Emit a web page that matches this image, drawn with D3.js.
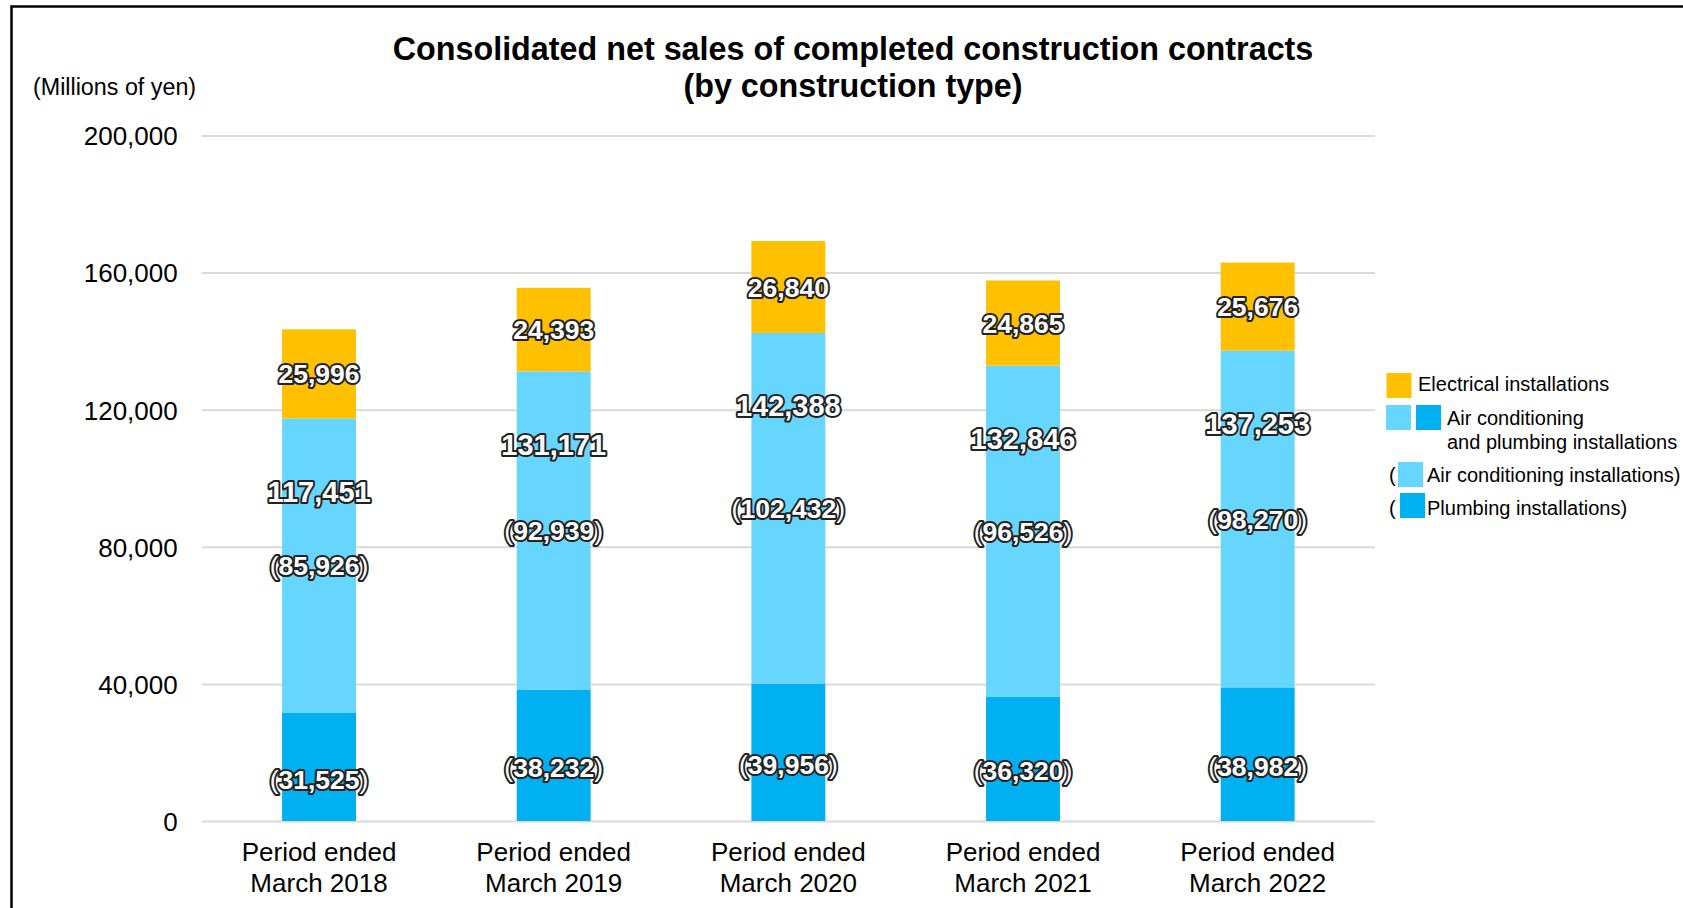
<!doctype html>
<html>
<head>
<meta charset="utf-8">
<script src="https://cdnjs.cloudflare.com/ajax/libs/d3/7.8.5/d3.min.js"></script>
<style>
    body { margin: 0; background: #fff; }
    svg { display: block; font-family: "Liberation Sans", Arial, sans-serif; }
    .grid line { stroke: #d9d9d9; stroke-width: 2; }
    .grid text { font-size: 26px; fill: #000; }
    .lbl {
        font-weight: bold;
        fill: #fff;
        stroke: #222;
        stroke-width: 4px;
        stroke-linejoin: round;
        paint-order: stroke;
    }
</style>
</head>
<body>
<svg width="1683" height="908" id="chart"></svg>
<script>
    // data
    var periods = ["March 2018", "March 2019", "March 2020", "March 2021", "March 2022"];
    var plumbing = [31525, 38232, 39956, 36320, 38982];
    var aircon = [85926, 92939, 102432, 96526, 98270];
    var acTotal = [117451, 131171, 142388, 132846, 137253];
    var electrical = [25996, 24393, 26840, 24865, 25676];
    var yTicks = [0, 40000, 80000, 120000, 160000, 200000];

    var colors = { plumbing: "#00b0f0", aircon: "#66d6ff", electrical: "#ffc000" };

    var svg = d3.select("#chart");
    var fmt = d3.format(",");

    // outer frame
    svg.append("rect")
       .attr("x", 11.5).attr("y", 6.5)
       .attr("width", 1720).attr("height", 960)
       .attr("fill", "none").attr("stroke", "#000").attr("stroke-width", 2.5);

    // title
    var title = svg.append("text")
       .attr("text-anchor", "middle")
       .attr("font-size", "32.3px")
       .attr("font-weight", "bold");
    title.append("tspan").attr("x", 853).attr("y", 60)
         .text("Consolidated net sales of completed construction contracts");
    title.append("tspan").attr("x", 853).attr("y", 97)
         .text("(by construction type)");

    svg.append("text")
       .attr("x", 33).attr("y", 95)
       .attr("font-size", "23.3px")
       .text("(Millions of yen)");

    var x = d3.scaleBand().domain(periods).range([201.7, 1375])
              .paddingInner(0.685).paddingOuter(0.3425);
    var y = d3.scaleLinear().domain([0, 200000]).range([821, 135.5]);

    // gridlines + y labels
    svg.append("g")
       .attr("class", "grid")
       .attr("transform", "translate(201.7,0)")
       .call(d3.axisLeft(y).tickValues(yTicks).tickFormat(fmt)
               .tickSize(-(1375 - 201.7)).tickPadding(24))
       .call(function(g) { g.select(".domain").remove(); })
       .selectAll("text").attr("dy", "0.36em");

    // stacked bars
    var rows = periods.map(function(p, i) {
        return { period: p, plumbing: plumbing[i], aircon: aircon[i], electrical: electrical[i], total: acTotal[i] };
    });
    var keys = ["plumbing", "aircon", "electrical"];
    var series = d3.stack().keys(keys)(rows);

    svg.append("g").selectAll("g")
       .data(series)
       .enter().append("g")
       .attr("fill", function(s) { return colors[s.key]; })
       .selectAll("rect")
       .data(function(s) { return s; })
       .enter().append("rect")
       .attr("x", function(d) { return x(d.data.period); })
       .attr("width", x.bandwidth())
       .attr("y", function(d) { return y(d[1]); })
       .attr("height", function(d) { return y(d[0]) - y(d[1]); });

    // value labels
    var lg = svg.append("g").attr("text-anchor", "middle");
    function addLabel(cx, cy, txt, size, paren) {
        var t = lg.append("text").attr("class", "lbl")
                  .attr("x", cx).attr("y", cy).attr("dy", "0.36em")
                  .attr("font-size", size + "px");
        if (paren) {
            t.append("tspan").attr("font-weight", "normal").text("(");
            t.append("tspan").text(txt);
            t.append("tspan").attr("font-weight", "normal").text(")");
        } else {
            t.text(txt);
        }
    }
    var ser = {};
    series.forEach(function(s) { ser[s.key] = s; });
    rows.forEach(function(r, i) {
        var cx = x(r.period) + x.bandwidth() / 2;
        var e = ser.electrical[i], a = ser.aircon[i], p = ser.plumbing[i];
        addLabel(cx, (y(e[0]) + y(e[1])) / 2, fmt(r.electrical), 26.5, false);
        addLabel(cx, y(a[1]) + 73, fmt(r.total), 29, false);
        addLabel(cx, (y(a[0]) + y(a[1])) / 2, fmt(r.aircon), 26.5, true);
        addLabel(cx, (y(p[0]) + y(p[1])) / 2 + 12, fmt(r.plumbing), 26.5, true);
    });

    // x labels
    var xl = svg.append("g").attr("text-anchor", "middle").attr("font-size", "26px");
    periods.forEach(function(p) {
        var t = xl.append("text");
        var cx = x(p) + x.bandwidth() / 2;
        t.append("tspan").attr("x", cx).attr("y", 861).text("Period ended");
        t.append("tspan").attr("x", cx).attr("y", 892).text(p);
    });

    // legend
    var leg = svg.append("g").attr("font-size", "20px");
    function swatch(x0, y0, c) {
        leg.append("rect").attr("x", x0).attr("y", y0).attr("width", 25).attr("height", 25).attr("fill", c);
    }
    swatch(1386.5, 373, colors.electrical);
    leg.append("text").attr("x", 1418).attr("y", 391).text("Electrical installations");

    swatch(1386, 405, colors.aircon);
    swatch(1416, 405, colors.plumbing);
    leg.append("text").attr("x", 1447).attr("y", 425).text("Air conditioning");
    leg.append("text").attr("x", 1447).attr("y", 449).text("and plumbing installations");

    leg.append("text").attr("x", 1389).attr("y", 482).text("(");
    swatch(1398, 462, colors.aircon);
    leg.append("text").attr("x", 1427).attr("y", 482).text("Air conditioning installations)");

    leg.append("text").attr("x", 1389).attr("y", 515).text("(");
    swatch(1400, 493, colors.plumbing);
    leg.append("text").attr("x", 1427).attr("y", 515).text("Plumbing installations)");
</script>
</body>
</html>
